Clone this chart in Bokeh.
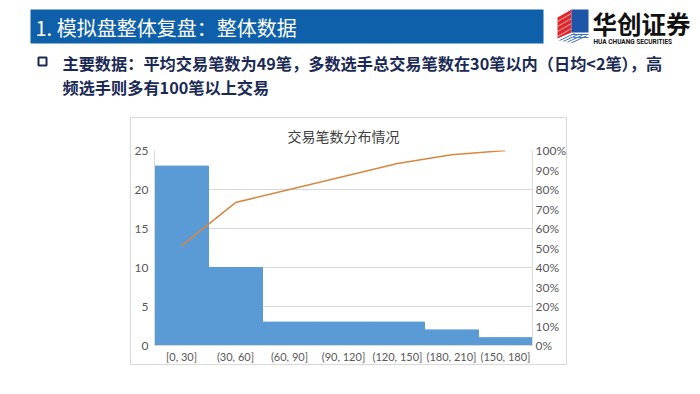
from bokeh.plotting import figure
from bokeh.models import (Range1d, LinearAxis, FixedTicker, NumeralTickFormatter,
                          Spacer, FactorRange)
from bokeh.layouts import column, row
from bokeh.core.properties import value
from bokeh.embed import file_html
from bokeh.resources import INLINE

# ---------------- data ----------------
categories = ["[0, 30]", "(30, 60]", "(60, 90]", "(90, 120]", "(120, 150]", "(180, 210]", "(150, 180]"]
counts = [23, 10, 3, 3, 3, 2, 1]
cum_pct = [0.511, 0.733, 0.800, 0.867, 0.933, 0.978, 1.000]
left_ticks = [0, 5, 10, 15, 20, 25]
right_ticks = [0.0, 0.1, 0.2, 0.3, 0.4, 0.5, 0.6, 0.7, 0.8, 0.9, 1.0]

slide_title = "1. 模拟盘整体复盘：整体数据"
bullet_line1 = "主要数据：平均交易笔数为49笔，多数选手总交易笔数在30笔以内（日均<2笔），高"
bullet_line2 = "频选手则多有100笔以上交易"
chart_title = "交易笔数分布情况"
logo_cn = "华创证券"
logo_en = "HUA CHUANG SECURITIES"

CJK = "Noto Sans CJK SC"
NAVY = "#1b2a55"

# ---------------- header figure ----------------
W, H0 = 700, 117
h = figure(width=W, height=H0, x_range=Range1d(0, W), y_range=Range1d(H0, 0),
           output_backend="svg", toolbar_location=None, min_border=0)
h.axis.visible = False
h.grid.visible = False
h.outline_line_color = None
h.background_fill_color = "white"
h.border_fill_color = "white"

# blue title bar
h.quad(left=[30], right=[543], top=[9], bottom=[43], fill_color="#0f60aa", line_color=None)
h.text(x=[35], y=[27], text=[slide_title], text_font=value(CJK), text_font_size="20px",
       text_color="white", text_baseline="middle", text_align="left")

# logo icon
h.patch(x=[557, 571, 571, 557], y=[17, 9, 32, 38], fill_color="#e2262e", line_color=None)
for k in range(4):
    h.line(x=[557, 571], y=[21 + 5 * k, 13 + 5 * k], line_color="white", line_width=0.8, line_alpha=0.8)
h.patch(x=[571, 588, 588, 571], y=[9, 9, 32, 32], fill_color="#1d55a8", line_color=None)
for k in range(4):
    h.line(x=[559 + 4 * k, 574 + 4 * k], y=[40 + k * 0.8, 33 + k * 0.8], line_color="#3d72bd", line_width=1)
h.line(x=[571, 588], y=[34, 34], line_color="#3d72bd", line_width=1)
h.line(x=[573, 588], y=[37, 37], line_color="#3d72bd", line_width=1)
h.text(x=[592], y=[23], text=[logo_cn], text_font=value(CJK), text_font_size="24.5px",
       text_font_style="bold", text_color="#111111", text_baseline="middle")
h.text(x=[593], y=[41], text=[logo_en], text_font=value("Roboto"), text_font_size="6.5px",
       text_font_style="bold", text_color="#111111", text_baseline="middle")

# bullet
h.quad(left=[38], right=[46], top=[57], bottom=[65], fill_color=None, line_color=NAVY, line_width=2)
h.text(x=[62, 62], y=[62, 86], text=[bullet_line1, bullet_line2], text_font=value(CJK),
       text_font_size="16.2px", text_font_style="bold", text_color=NAVY,
       text_baseline="middle", text_align="left")

# ---------------- chart figure ----------------
p = figure(x_range=FactorRange(*categories), y_range=Range1d(0, 25), width=437, height=248,
           output_backend="svg", toolbar_location=None,
           min_border_left=22, min_border_right=36, min_border_top=30, min_border_bottom=21,
           title=chart_title)
p.styles = {"border": "1px solid #d9d9d9"}
p.title.align = "center"
p.title.text_font = CJK
p.title.text_font_size = "14px"
p.title.text_font_style = "normal"
p.title.text_color = "#404040"
p.title.standoff = 10
p.outline_line_color = None
p.background_fill_color = "white"
p.border_fill_color = "white"

p.vbar(x=categories, top=counts, width=1.0, fill_color="#5b9bd5", line_color="#5b9bd5", line_width=1)

p.extra_y_ranges = {"pct": Range1d(0, 1)}
p.line(x=categories, y=cum_pct, y_range_name="pct", line_color="#d8873f", line_width=1.5)

p.xgrid.grid_line_color = None
p.ygrid.grid_line_color = "#d9d9d9"
p.ygrid.ticker = FixedTicker(ticks=left_ticks)

ra = LinearAxis(y_range_name="pct", ticker=FixedTicker(ticks=right_ticks),
                formatter=NumeralTickFormatter(format="0%"))
p.add_layout(ra, "right")

for ax in [p.yaxis[0], p.xaxis[0], ra]:
    ax.major_tick_line_color = None
    ax.minor_tick_line_color = None
    ax.major_tick_out = 0
    ax.major_tick_in = 0
    ax.minor_tick_out = 0
    ax.minor_tick_in = 0
    ax.major_label_text_color = "#595959"
    ax.major_label_text_font = "Lato"
    ax.major_label_text_font_size = "12px"
    ax.axis_line_color = "#d9d9d9"
p.xaxis[0].major_label_text_font_size = "11px"
p.yaxis[0].ticker = FixedTicker(ticks=left_ticks)
p.yaxis[0].major_label_standoff = 6
p.xaxis[0].major_label_standoff = 4
ra.major_label_standoff = 3

layout = column(h, row(Spacer(width=130, height=250), p))
open("out.html", "w").write(file_html(layout, INLINE))
